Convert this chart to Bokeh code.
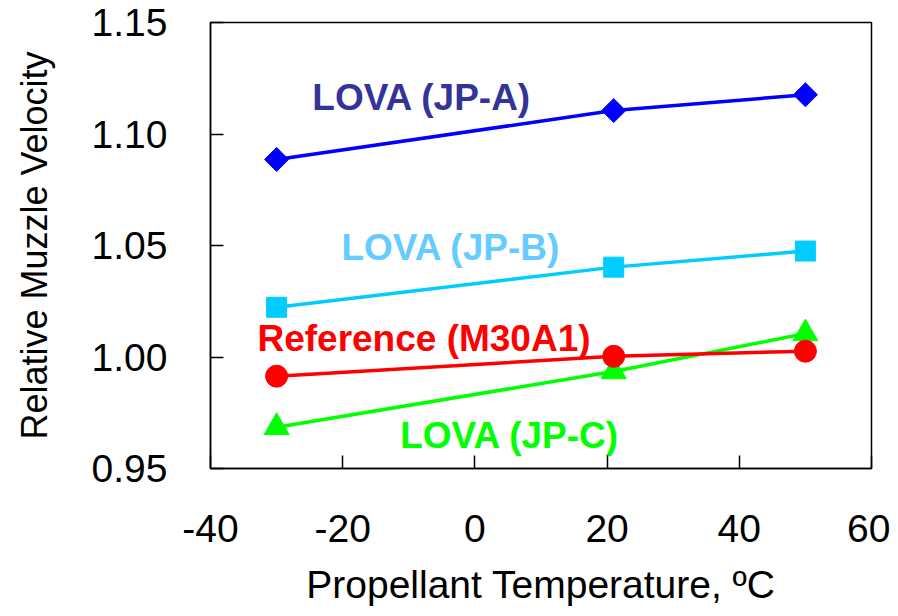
import numpy as np
from bokeh.plotting import figure
from bokeh.models import (ColumnDataSource, FixedTicker, NumeralTickFormatter,
                          PrintfTickFormatter, Range1d)
from bokeh.core.properties import value
from bokeh.embed import file_html
from bokeh.resources import INLINE

# ---- data ----
temperature = [-30, 21, 50]
jp_a = [1.0886, 1.1105, 1.1176]
jp_b = [1.0223, 1.0403, 1.0475]
reference = [0.9914, 1.0003, 1.0026]
jp_c = [0.9685, 0.9935, 1.0105]

x_ticks = [-40, -20, 0, 20, 40, 60]
y_ticks = [0.95, 1.00, 1.05, 1.10, 1.15]

label_texts = ["LOVA (JP-A)", "LOVA (JP-B)", "Reference (M30A1)", "LOVA (JP-C)"]
label_x = [-24.6, -20.2, -32.9, -11.3]
label_y = [1.1163, 1.049, 1.0082, 0.965]
label_colors = ["#333399", "#66CCFF", "#FF0000", "#00FF00"]

FONT = "Liberation Sans"

p = figure(width=890, height=608, output_backend="svg", toolbar_location=None,
           x_range=Range1d(-40, 60), y_range=Range1d(0.95, 1.15),
           min_border_left=210, min_border_right=19, min_border_top=22, min_border_bottom=139)

p.background_fill_color = "white"
p.border_fill_color = "white"
p.outline_line_color = "black"
p.outline_line_width = 1.5
p.xgrid.visible = False
p.ygrid.visible = False

p.xaxis.ticker = FixedTicker(ticks=x_ticks)
p.yaxis.ticker = FixedTicker(ticks=y_ticks)
p.xaxis.formatter = PrintfTickFormatter(format="%d")
p.yaxis.formatter = NumeralTickFormatter(format="0.00")

for ax in (p.xaxis[0], p.yaxis[0]):
    ax.axis_line_color = "black"
    ax.axis_line_width = 1.5
    ax.major_tick_in = 13
    ax.major_tick_out = 0
    ax.major_tick_line_color = "black"
    ax.major_tick_line_width = 1.5
    ax.minor_tick_line_color = None
    ax.major_label_text_font = FONT
    ax.major_label_text_font_size = "39px"
    ax.major_label_text_color = "black"
    ax.axis_label_text_font = FONT
    ax.axis_label_text_font_style = "normal"
    ax.axis_label_text_color = "black"

p.xaxis.axis_label = "Propellant Temperature, ºC"
p.xaxis.axis_label_text_font_size = "39px"
p.xaxis.major_label_standoff = 46
p.xaxis.axis_label_standoff = 18

p.yaxis.axis_label = "Relative Muzzle Velocity"
p.yaxis.axis_label_text_font_size = "36px"
p.yaxis.major_label_standoff = 43
p.yaxis.axis_label_standoff = 34

# ---- series ----
p.line(temperature, jp_a, line_color="#0000FF", line_width=3.5)
p.scatter(temperature, jp_a, marker="square", angle=np.pi / 4, size=17,
          fill_color="#0000FF", line_color="#0000FF")

p.line(temperature, jp_b, line_color="#00CCFF", line_width=3.5)
p.scatter(temperature, jp_b, marker="square", size=20,
          fill_color="#00CCFF", line_color="#00CCFF")

p.line(temperature, jp_c, line_color="#00FF00", line_width=3.5)
p.scatter(temperature, jp_c, marker="triangle", size=25,
          fill_color="#00FF00", line_color="#00FF00")

p.line(temperature, reference, line_color="#FF0000", line_width=3.5)
p.scatter(temperature, reference, marker="circle", size=22,
          fill_color="#FF0000", line_color="#FF0000")

# ---- labels ----
lab_src = ColumnDataSource(dict(x=label_x, y=label_y, text=label_texts, color=label_colors))
p.text(x="x", y="y", text="text", text_color="color", source=lab_src,
       text_font=value(FONT), text_font_style="bold", text_font_size="37px",
       text_align="left", text_baseline="middle")

open("out.html", "w").write(file_html(p, INLINE))
